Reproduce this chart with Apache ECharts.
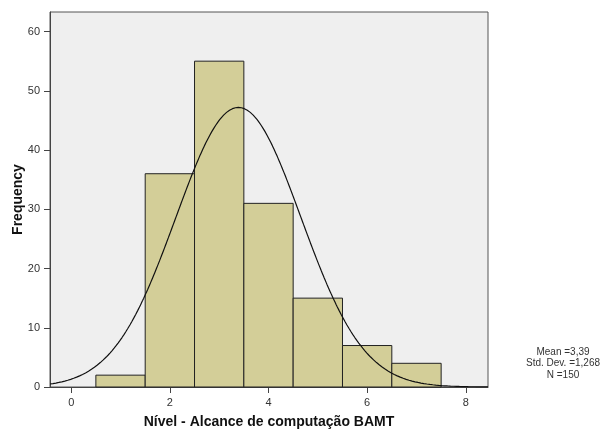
<!DOCTYPE html>
<html>
<head>
<meta charset="utf-8">
<script src="https://cdn.jsdelivr.net/npm/echarts@6/dist/echarts.min.js"></script>
<style>
  html, body { margin: 0; padding: 0; background: #ffffff; }
  #chart { width: 615px; height: 432px; }
</style>
</head>
<body>
<div id="chart"></div>
<script>
// Histogram bins (bin centres, width 1) and their counts
const binCenters = [1, 2, 3, 4, 5, 6, 7];
const frequencies = [2, 36, 55, 31, 15, 7, 4];

// Summary statistics shown beside the plot
const statMean = 3.39;
const statStdDev = 1.268;
const statN = 150;
const statLabels = ['Mean =3,39', 'Std. Dev. =1,268', 'N =150'];

// Axis settings
const xTicks = [0, 2, 4, 6, 8];
const yTicks = [0, 10, 20, 30, 40, 50, 60];
const xMin = -0.43, xMax = 8.45;
const yMax = 63.3;

// Fitted normal curve scaled to counts (bin width 1)
const curve = [];
for (let x = xMin; x <= xMax + 1e-9; x += 0.02) {
  const z = (x - statMean) / statStdDev;
  const y = statN / (statStdDev * Math.sqrt(2 * Math.PI)) * Math.exp(-0.5 * z * z);
  curve.push([x, y]);
}

const barData = binCenters.map((c, i) => [c, frequencies[i]]);

const chart = echarts.init(document.getElementById('chart'));
chart.setOption({
  animation: false,
  grid: {
    left: 50, top: 12, right: 127, bottom: 45,
    outerBoundsMode: 'none',
    containLabel: false,
    show: true,
    backgroundColor: '#efefef',
    borderColor: '#555555',
    borderWidth: 1
  },
  xAxis: {
    type: 'value',
    min: xMin, max: xMax,
    interval: 2,
    name: 'Nível - Alcance de computação BAMT',
    nameLocation: 'middle',
    nameGap: 28,
    nameMoveOverlap: false,
    nameTextStyle: { fontFamily: 'Liberation Sans', fontWeight: 'bold', fontSize: 14, color: '#111' },
    axisLine: { show: true, onZero: false, lineStyle: { color: '#444', width: 1 } },
    axisTick: { show: true, length: 6, lineStyle: { color: '#444' },
      customValues: xTicks },
    axisLabel: { fontFamily: 'Liberation Sans', fontSize: 11, color: '#333', margin: 10,
      customValues: xTicks },
    splitLine: { show: false }
  },
  yAxis: {
    type: 'value',
    min: 0, max: yMax,
    name: 'Frequency',
    nameLocation: 'middle',
    nameGap: 25,
    nameMoveOverlap: false,
    nameTextStyle: { fontFamily: 'Liberation Sans', fontWeight: 'bold', fontSize: 14, color: '#111' },
    axisLine: { show: true, onZero: false, lineStyle: { color: '#444', width: 1 } },
    axisTick: { show: true, length: 6, lineStyle: { color: '#444' },
      customValues: yTicks },
    axisLabel: { fontFamily: 'Liberation Sans', fontSize: 11, color: '#333', margin: 10,
      customValues: yTicks },
    splitLine: { show: false }
  },
  series: [
    {
      type: 'custom',
      data: barData,
      renderItem: function (params, api) {
        const c = api.value(0), v = api.value(1);
        const p0 = api.coord([c - 0.5, 0]);
        const p1 = api.coord([c + 0.5, v]);
        return {
          type: 'rect',
          shape: { x: p0[0], y: p1[1], width: p1[0] - p0[0], height: p0[1] - p1[1] },
          style: { fill: '#d3ce98', stroke: '#222', lineWidth: 1 }
        };
      },
      z: 2
    },
    {
      type: 'line',
      data: curve,
      showSymbol: false,
      smooth: false,
      lineStyle: { color: '#111', width: 1.2 },
      z: 3
    }
  ],
  graphic: statLabels.map((t, i) => ({
    type: 'text',
    x: 563, y: 347 + i * 11.5,
    style: {
      text: t, align: 'center', verticalAlign: 'top',
      fontFamily: 'Liberation Sans', fontSize: 10, fill: '#333'
    }
  }))
});
</script>
</body>
</html>
